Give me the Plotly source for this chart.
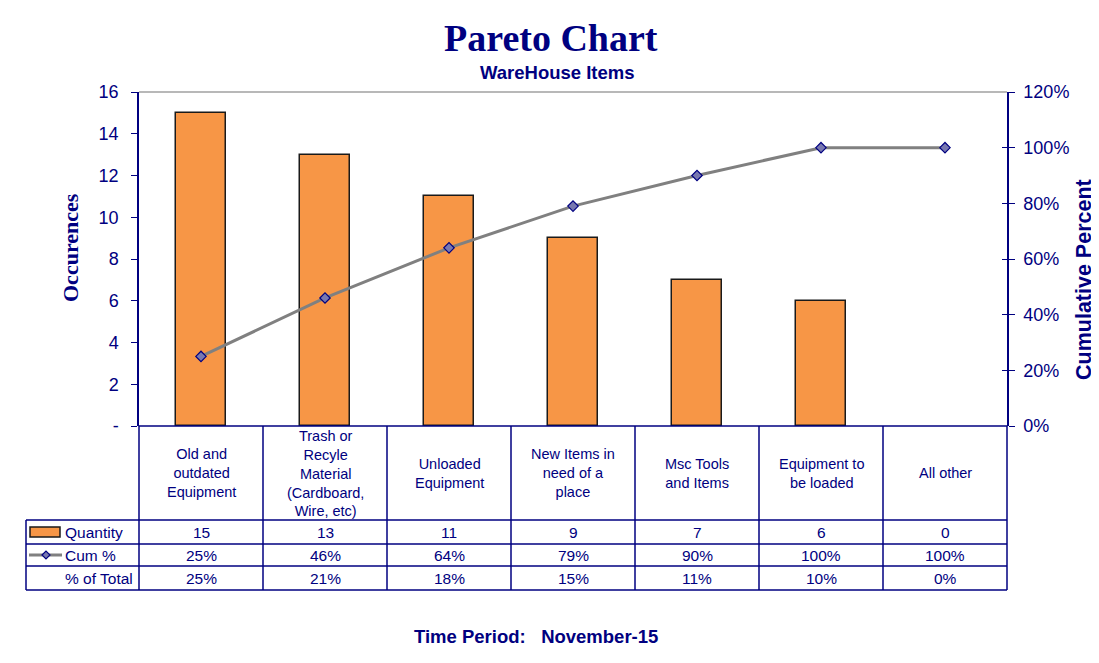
import plotly.graph_objects as go

categories = ["Old and<br>outdated<br>Equipment",
              "Trash or<br>Recyle<br>Material<br>(Cardboard,<br>Wire, etc)",
              "Unloaded<br>Equipment",
              "New Items in<br>need of a<br>place",
              "Msc Tools<br>and Items",
              "Equipment to<br>be loaded",
              "All other"]
quantity = [15, 13, 11, 9, 7, 6, 0]
cum_pct = [0.25, 0.46, 0.64, 0.79, 0.90, 1.00, 1.00]
pct_total = [0.25, 0.21, 0.18, 0.15, 0.11, 0.10, 0.00]
left_ticks = [0, 2, 4, 6, 8, 10, 12, 14, 16]
left_ticktext = ["-", "2", "4", "6", "8", "10", "12", "14", "16"]

OFF = 8  # page body margin
W, H = 1099 - OFF, 663 - OFF
L, R, T, B = 139 - OFF, 92, 92 - OFF, 237
PW, PH = W - L - R, H - T - B
NAVY = "#000080"
SANS = "Liberation Sans, Arial, sans-serif"
SERIF = "Liberation Serif, Times New Roman, serif"

def py(ypix):  # reference pixel -> paper
    return (426 - ypix) / PH

def px(xpix):
    return (xpix - 139) / PW

fig = go.Figure()
xs = list(range(len(categories)))
fig.add_trace(go.Bar(x=xs, y=quantity, width=0.41,
                     marker=dict(color="#F79646", line=dict(color="#1a1a1a", width=[1.5 if q > 0 else 0 for q in quantity])),
                     name="Quantity", yaxis="y"))
fig.add_trace(go.Scatter(x=xs, y=cum_pct, mode="lines+markers", yaxis="y2", name="Cum %",
                         line=dict(color="#808080", width=3),
                         marker=dict(symbol="diamond", size=8, color="#7878b0", line=dict(color=NAVY, width=1.2))))

shapes = []
annotations = []
shapes.append(dict(type="line", xref="paper", yref="paper", x0=0, x1=1, y0=1, y1=1, line=dict(color="#a0a0a0", width=1.5)))

row_lines = [426, 520, 544, 566, 590]
for i, yp in enumerate(row_lines):
    x0 = 0 if i == 0 else px(26)
    shapes.append(dict(type="line", xref="paper", yref="paper", x0=x0, x1=1, y0=py(yp), y1=py(yp), line=dict(color=NAVY, width=1.5)))
n = len(categories)
for k in range(n + 1):
    xv = k / n
    shapes.append(dict(type="line", xref="paper", yref="paper", x0=xv, x1=xv, y0=py(426), y1=py(590), line=dict(color=NAVY, width=1.5)))
shapes.append(dict(type="line", xref="paper", yref="paper", x0=px(26), x1=px(26), y0=py(520), y1=py(590), line=dict(color=NAVY, width=1.5)))

shapes.append(dict(type="rect", xref="paper", yref="paper", x0=px(30), x1=px(60), y0=py(537), y1=py(527),
                   fillcolor="#F79646", line=dict(color="#1a1a1a", width=1.5)))
shapes.append(dict(type="line", xref="paper", yref="paper", x0=px(29), x1=px(62), y0=py(555), y1=py(555),
                   line=dict(color="#808080", width=3)))
cx, cy, d = 46, 555, 4
shapes.append(dict(type="path", xref="paper", yref="paper",
                   path=f"M {px(cx-d)} {py(cy)} L {px(cx)} {py(cy-d)} L {px(cx+d)} {py(cy)} L {px(cx)} {py(cy+d)} Z",
                   fillcolor="#7878b0", line=dict(color=NAVY, width=1.2)))

FS = 15.5
row_labels = ["Quantity", "Cum %", "% of Total"]
row_centers = [532, 555, 578]
for lab, yc in zip(row_labels, row_centers):
    annotations.append(dict(text=lab, xref="paper", yref="paper", x=px(63), y=py(yc), xanchor="left", yanchor="middle",
                            showarrow=False, font=dict(family=SANS, size=FS, color=NAVY)))

for i, cat in enumerate(categories):
    annotations.append(dict(text=cat, xref="x", yref="paper", x=i, y=py(473), xanchor="center", yanchor="middle",
                            showarrow=False, font=dict(family=SANS, size=14.5, color=NAVY), align="center"))
    vals = [str(quantity[i]), f"{round(cum_pct[i]*100)}%", f"{round(pct_total[i]*100)}%"]
    for v, yc in zip(vals, row_centers):
        annotations.append(dict(text=v, xref="x", yref="paper", x=i, y=py(yc), xanchor="center", yanchor="middle",
                                showarrow=False, font=dict(family=SANS, size=FS, color=NAVY)))

annotations.append(dict(text="<b>Pareto Chart</b>", xref="paper", yref="paper", x=px(551), y=py(38), xanchor="center", yanchor="middle",
                        showarrow=False, font=dict(family=SERIF, size=38, color=NAVY)))
annotations.append(dict(text="<b>WareHouse Items</b>", xref="paper", yref="paper", x=px(557), y=py(73), xanchor="center", yanchor="middle",
                        showarrow=False, font=dict(family=SANS, size=18.5, color=NAVY)))
annotations.append(dict(text="<b>Occurences</b>", xref="paper", yref="paper", x=px(70), y=py(248), xanchor="center", yanchor="middle",
                        textangle=-90, showarrow=False, font=dict(family=SERIF, size=22, color=NAVY)))
annotations.append(dict(text="<b>Cumulative Percent</b>", xref="paper", yref="paper", x=px(1084), y=py(280), xanchor="center", yanchor="middle",
                        textangle=-90, showarrow=False, font=dict(family=SANS, size=21.5, color=NAVY)))
annotations.append(dict(text="<b>Time Period:\u00a0\u00a0\u00a0November-15</b>", xref="paper", yref="paper", x=px(536), y=py(636),
                        xanchor="center", yanchor="middle", showarrow=False, font=dict(family=SANS, size=18.5, color=NAVY)))

fig.update_layout(
    width=W, height=H, margin=dict(l=L, r=R, t=T, b=B, pad=0),
    plot_bgcolor="white", paper_bgcolor="white", showlegend=False, bargap=0,
    xaxis=dict(range=[-0.5, n - 0.5], showticklabels=False, showgrid=False, zeroline=False, ticks="", showline=False, fixedrange=True),
    yaxis=dict(range=[0, 16], tickvals=left_ticks, ticktext=left_ticktext, showgrid=False, zeroline=False,
               showline=True, linecolor=NAVY, linewidth=1.5, ticks="outside", ticklen=6, tickcolor=NAVY,
               tickfont=dict(family=SANS, size=18, color=NAVY), ticklabelstandoff=9),
    yaxis2=dict(range=[0, 1.2], dtick=0.2, tickformat=".0%", overlaying="y", side="right", showgrid=False, zeroline=False,
                showline=True, linecolor=NAVY, linewidth=1.5, ticks="outside", ticklen=6, tickcolor=NAVY,
                tickfont=dict(family=SANS, size=18, color=NAVY), ticklabelstandoff=5),
    yaxis3=dict(range=[0, 1.2], dtick=0.2, overlaying="y", side="right", anchor="x", showgrid=False, zeroline=False,
                showline=False, ticks="inside", ticklen=5, tickcolor=NAVY, showticklabels=False),
    shapes=shapes, annotations=annotations,
)
# invisible trace so that the inner tick marks of the right axis are drawn
fig.add_trace(go.Scatter(x=[xs[0]], y=[cum_pct[0]], yaxis="y3", mode="markers", marker=dict(opacity=0), hoverinfo="skip"))
fig.write_html("out.html")
